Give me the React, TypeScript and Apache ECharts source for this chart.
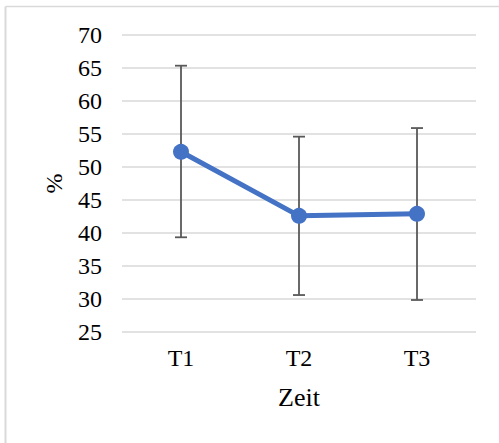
import React, { useEffect, useRef } from "react";
import * as echarts from "echarts";

const categories = ["T1", "T2", "T3"];
const means = [52.3, 42.6, 42.9];
const errLow = [39.35, 30.6, 29.85];
const errHigh = [65.35, 54.6, 55.9];
const yMin = 25;
const yMax = 70;
const yInterval = 5;

const FONT = '"Liberation Serif", "Times New Roman", serif';

export default function App() {
  const ref = useRef<HTMLDivElement>(null);
  useEffect(() => {
    if (!ref.current) return;
    const chart = echarts.init(ref.current, undefined, { renderer: "svg" });
    const errData = categories.map((c, i) => [i, errLow[i], errHigh[i]]);
    chart.setOption({
      animation: false,
      backgroundColor: "#ffffff",
      grid: { left: 122, right: 23, top: 35, bottom: 111, containLabel: false },
      graphic: [
        { type: "line", shape: { x1: 5.5, y1: 6.5, x2: 499, y2: 6.5 }, style: { stroke: "#d9d9d9", lineWidth: 1.5 } },
        { type: "line", shape: { x1: 5.5, y1: 6.5, x2: 5.5, y2: 443 }, style: { stroke: "#d9d9d9", lineWidth: 2 } },
      ],
      xAxis: {
        type: "category",
        data: categories,
        boundaryGap: true,
        axisLine: { show: false },
        axisTick: { show: false },
        axisLabel: { color: "#000", fontFamily: FONT, fontSize: 24, margin: 14 },
        name: "Zeit",
        nameLocation: "middle",
        nameGap: 52,
        nameTextStyle: { color: "#000", fontFamily: FONT, fontSize: 26 },
      },
      yAxis: {
        type: "value",
        min: yMin,
        max: yMax,
        interval: yInterval,
        axisLine: { show: false },
        axisTick: { show: false },
        splitLine: { lineStyle: { color: "#d9d9d9", width: 1.5 } },
        axisLabel: { color: "#000", fontFamily: FONT, fontSize: 24, margin: 20 },
        name: "%",
        nameLocation: "middle",
        nameGap: 56,
        nameRotate: 90,
        nameTextStyle: { color: "#000", fontFamily: FONT, fontSize: 24 },
      },
      series: [
        {
          type: "custom",
          data: errData,
          z: 1,
          renderItem: (params: any, api: any) => {
            const x = api.coord([api.value(0), api.value(1)])[0];
            const lo = api.coord([api.value(0), api.value(1)])[1];
            const hi = api.coord([api.value(0), api.value(2)])[1];
            const cap = 6;
            const style = { stroke: "#595959", lineWidth: 1.8 };
            return {
              type: "group",
              children: [
                { type: "line", shape: { x1: x, y1: lo, x2: x, y2: hi }, style },
                { type: "line", shape: { x1: x - cap, y1: lo, x2: x + cap, y2: lo }, style },
                { type: "line", shape: { x1: x - cap, y1: hi, x2: x + cap, y2: hi }, style },
              ],
            };
          },
        },
        {
          type: "line",
          data: means,
          z: 3,
          symbol: "circle",
          symbolSize: 16,
          lineStyle: { color: "#4472C4", width: 5 },
          itemStyle: { color: "#4472C4" },
        },
      ],
    });
    return () => chart.dispose();
  }, []);
  return (
    <div
      ref={ref}
      style={{ position: "fixed", left: 0, top: 0, width: 499, height: 443, background: "#fff" }}
    />
  );
}
